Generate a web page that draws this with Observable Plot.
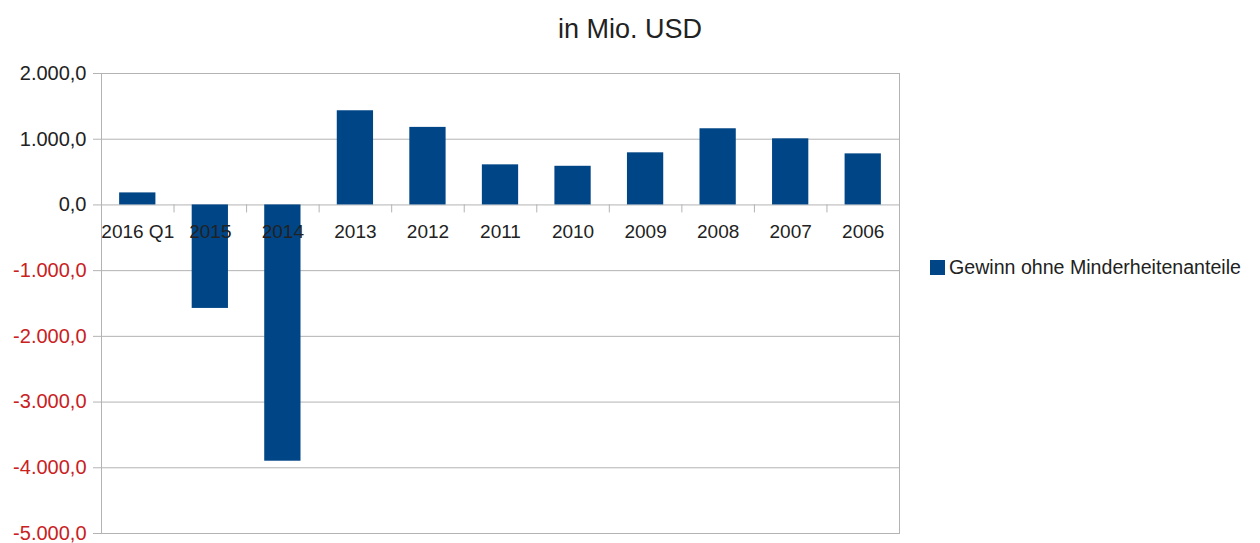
<!DOCTYPE html>
<html>
<head>
<meta charset="utf-8">
<script src="https://cdn.jsdelivr.net/npm/d3@7"></script>
<script src="https://cdn.jsdelivr.net/npm/@observablehq/plot@0.6"></script>
<style>
  html, body { margin: 0; padding: 0; background: #fff; }
  #wrap { position: relative; width: 1260px; height: 543px; font-family: "Liberation Sans", Arial, sans-serif; }
  #title { width: 1260px; height: 58px; line-height: 58px; text-align: center; font-size: 27px; color: #222; }
  #legend { position: absolute; left: 930px; top: 256px; font-size: 19.6px; color: #222; display: flex; align-items: center; white-space: nowrap; }
  #legend .sw { width: 15px; height: 15px; background: #004586; margin-right: 4px; }
</style>
</head>
<body>
<div id="wrap">
  <div id="title">in Mio. USD</div>
  <div id="chart"></div>
  <div id="legend"><span class="sw"></span><span>Gewinn ohne Minderheitenanteile</span></div>
</div>
<script>
const categories = ["2016 Q1", "2015", "2014", "2013", "2012", "2011", "2010", "2009", "2008", "2007", "2006"];
const values = [183, -1575, -3900, 1433, 1180, 610, 588, 793, 1159, 1006, 777];
const seriesName = "Gewinn ohne Minderheitenanteile";
const posTicks = [0, 1000, 2000];
const negTicks = [-5000, -4000, -3000, -2000, -1000];

const data = categories.map((c, i) => ({category: c, value: values[i], series: seriesName}));

const de = d3.formatLocale({decimal: ",", thousands: ".", grouping: [3], currency: ["", " €"]});
const fmt = de.format(",.1f");
const fmtTick = d => fmt(d).replace("−", "-");

const W = 1260, H = 485;
const mL = 101, mR = 361, mT = 15, mB = 10;
const band = (W - mL - mR) / categories.length;
const tickLen = 8 * 7000 / (H - mT - mB); // 8px expressed in data units

const chart = Plot.plot({
  width: W,
  height: H,
  marginLeft: mL,
  marginRight: mR,
  marginTop: mT,
  marginBottom: mB,
  style: {fontFamily: "Liberation Sans, Arial, sans-serif", fontSize: "19px", background: "#fff"},
  x: {domain: categories, paddingInner: 0.5, paddingOuter: 0.25, round: false, axis: null, label: null},
  y: {domain: [-5000, 2000], axis: null, label: null},
  marks: [
    Plot.gridY([...negTicks, ...posTicks], {stroke: "#b3b3b3", strokeOpacity: 1}),
    Plot.frame({stroke: "#b3b3b3"}),
    Plot.axisY(posTicks, {label: null, tickSize: 8, tickPadding: 7, stroke: "#b3b3b3", color: "#222", tickFormat: fmtTick, fontSize: 20}),
    Plot.axisY(negTicks, {label: null, tickSize: 8, tickPadding: 7, stroke: "#b3b3b3", fill: "#c9211e", tickFormat: fmtTick, fontSize: 20}),
    Plot.ruleX(categories.slice(1), {x: d => d, y1: () => 0, y2: () => -tickLen, dx: -band / 2, stroke: "#b3b3b3"}),
    Plot.barY(data, {x: "category", y: "value", fill: "#004586"}),
    Plot.text(data, {x: "category", y: () => 0, text: "category", dy: 27, fill: "#222", fontSize: 19})
  ]
});
document.getElementById("chart").appendChild(chart);
</script>
</body>
</html>
